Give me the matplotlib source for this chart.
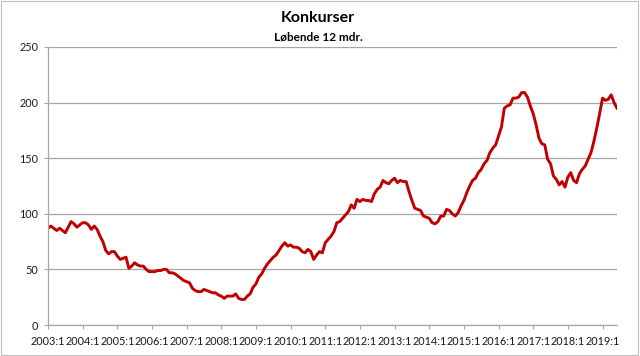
import matplotlib
matplotlib.use("Agg")
import matplotlib.pyplot as plt
from matplotlib.patches import Rectangle

plt.rcParams['font.family'] = ['Lato', 'DejaVu Sans']

years = list(range(2003, 2020))
tick_labels = [f"{y}:1" for y in years]
y_ticks = [0, 50, 100, 150, 200, 250]

# Monthly values, 2003:1 .. 2019:6 (rolling 12 months)
values = [
    87, 89, 87, 85, 87, 85, 83, 88, 93, 91, 88, 90,          # 2003
    92, 92, 90, 86, 89, 86, 80, 75, 67, 64, 66, 66,          # 2004
    62, 59, 60, 61, 51, 53, 56, 54, 53, 53, 50, 48,          # 2005
    48, 48, 49, 49, 50, 50, 47, 47, 46, 44, 42, 40,          # 2006
    39, 38, 33, 31, 30, 30, 32, 31, 30, 29, 29, 27,          # 2007
    26, 24, 26, 26, 26, 28, 24, 23, 23, 26, 28, 34,          # 2008
    37, 43, 46, 51, 55, 58, 61, 63, 67, 71, 74, 71,          # 2009
    72, 70, 70, 69, 66, 65, 68, 66, 59, 63, 66, 65,          # 2010
    74, 77, 80, 84, 92, 93, 96, 99, 102, 108, 105, 113,      # 2011
    111, 113, 112, 112, 111, 118, 122, 124, 130, 128, 127, 130,  # 2012
    132, 128, 130, 129, 129, 120, 112, 105, 104, 103, 98, 97,    # 2013
    96, 92, 91, 93, 98, 98, 104, 103, 100, 98, 101, 107,         # 2014
    112, 119, 125, 130, 132, 137, 140, 145, 148, 155, 159, 162,  # 2015
    170, 178, 195, 197, 198, 204, 204, 205, 209, 209, 205, 197,  # 2016
    190, 180, 168, 163, 162, 149, 145, 134, 131, 126, 129, 124,  # 2017
    133, 137, 130, 128, 136, 140, 143, 149, 155, 165, 177, 190,  # 2018
    204, 202, 203, 207, 200, 195,                                # 2019
]

x = list(range(len(values)))

fig = plt.figure(figsize=(6.4, 3.56), dpi=100)
fig.patches.append(Rectangle((0.002, 0.003), 0.995, 0.993, transform=fig.transFigure,
                             fill=False, edgecolor='#bfbfbf', linewidth=0.8))
ax = fig.add_axes([0.075, 0.087, 0.889, 0.781])

ax.plot(x, values, color='#c00000', linewidth=2.1, solid_joinstyle='round')

ax.set_xlim(0, len(values) - 1)
ax.set_ylim(0, 250)
ax.set_yticks(y_ticks)
ax.set_yticklabels([str(v) for v in y_ticks], fontsize=7.8)
ax.set_xticks([12 * i for i in range(len(years))])
ax.set_xticklabels(tick_labels, fontsize=7.8)

ax.grid(axis='y', color='#a6a6a6', linewidth=0.9)
ax.set_axisbelow(True)
for s in ['top', 'right']:
    ax.spines[s].set_visible(False)
for s in ['left', 'bottom']:
    ax.spines[s].set_color('#a6a6a6')
    ax.spines[s].set_linewidth(0.9)
ax.tick_params(axis='both', direction='out', length=3, color='#a6a6a6', labelcolor='#1a1a1a')
ax.tick_params(axis='x', pad=5)
ax.tick_params(axis='y', pad=4)

fig.text(0.497, 0.95, "Konkurser", ha='center', va='center', fontsize=11.5, fontweight='bold')
fig.text(0.497, 0.897, "Løbende 12 mdr.", ha='center', va='center', fontsize=8.5, fontweight='bold')

fig.savefig("out.png", dpi=100)
